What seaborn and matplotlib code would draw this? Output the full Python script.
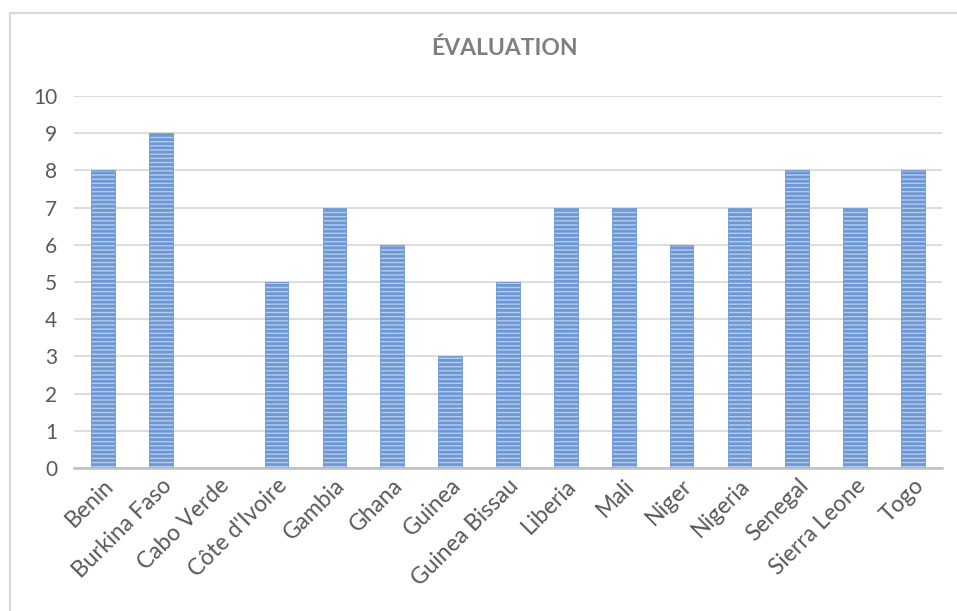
import matplotlib
matplotlib.use("Agg")
import matplotlib.pyplot as plt
import seaborn as sns
import pandas as pd
from matplotlib.patches import Rectangle

countries = ["Benin", "Burkina Faso", "Cabo Verde", "Côte d'Ivoire", "Gambia", "Ghana",
             "Guinea", "Guinea Bissau", "Liberia", "Mali", "Niger", "Nigeria",
             "Senegal", "Sierra Leone", "Togo"]
scores = [8, 9, 0, 5, 7, 6, 3, 5, 7, 7, 6, 7, 8, 7, 8]
yticks = list(range(0, 11))
title = "ÉVALUATION"

sns.set_style("white")
plt.rcParams['font.family'] = ['Lato', 'DejaVu Sans']
plt.rcParams['hatch.linewidth'] = 2.0
plt.rcParams['hatch.color'] = '#4473bd'

df = pd.DataFrame({"country": countries, "score": scores})

W, H = 957, 611
fig = plt.figure(figsize=(W / 100, H / 100), dpi=100)
ax = fig.add_axes([74 / W, 1 - 468 / H, (942 - 74) / W, (468 - 96) / H])

sns.barplot(data=df, x="country", y="score", ax=ax, color='#b4cdee', width=0.41,
            saturation=1, edgecolor='#6d98d4', linewidth=0.6)
for p in ax.patches:
    p.set_hatch('----')

ax.set_ylim(0, 10)
ax.set_xlim(-0.5, len(countries) - 0.5)
ax.set_yticks(yticks)
ax.yaxis.grid(True, color='#d9d9d9', linewidth=1.3)
ax.set_axisbelow(True)
for s in ['top', 'right', 'left']:
    ax.spines[s].set_visible(False)
ax.spines['bottom'].set_color('#bfbfbf')
ax.spines['bottom'].set_linewidth(1.8)
ax.set_xlabel("")
ax.set_ylabel("")
ax.tick_params(axis='y', length=0, pad=12, labelsize=15, labelcolor='#595959')
ax.tick_params(axis='x', length=0, pad=5, labelsize=16.5, labelcolor='#595959')
plt.setp(ax.get_xticklabels(), rotation=45, ha='right', rotation_mode='anchor')

fig.text(504 / W, 1 - 48 / H, title, ha='center', va='center', fontsize=16.5,
         fontweight='bold', color='#7f7f7f')

fig.patches.append(Rectangle((10 / W, -0.1), 1.2, 1 - 13 / H + 0.1, transform=fig.transFigure,
                             fill=False, edgecolor='#d9d9d9', linewidth=1.5))

fig.savefig("out.png", dpi=100)
